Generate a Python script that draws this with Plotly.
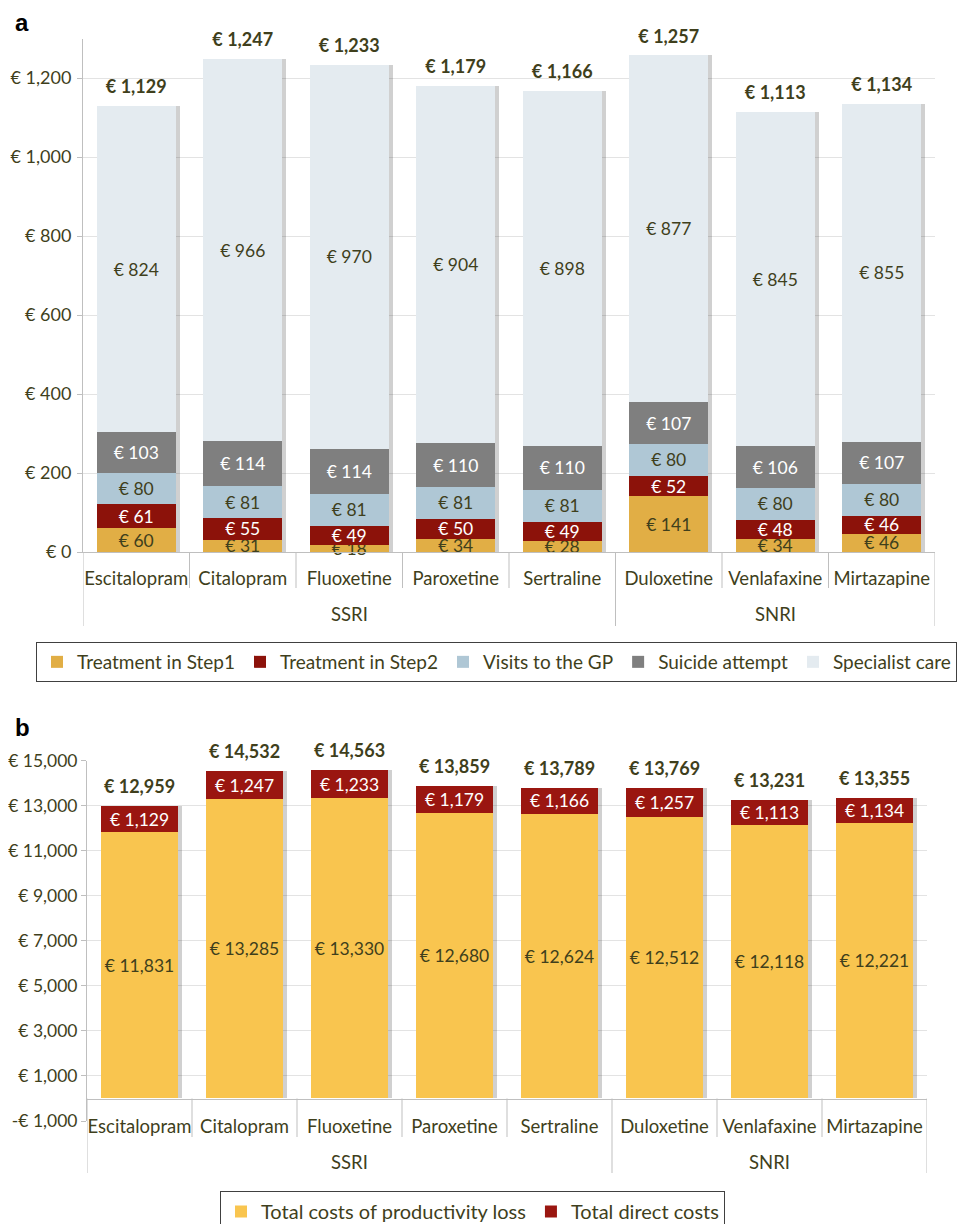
import plotly.graph_objects as go

W, H = 965, 1224
OFF = 8  # page body margin that the html adds around the figure

# ---------------- data ----------------
drugs = ["Escitalopram", "Citalopram", "Fluoxetine", "Paroxetine", "Sertraline",
         "Duloxetine", "Venlafaxine", "Mirtazapine"]
classes = ["SSRI", "SSRI", "SSRI", "SSRI", "SSRI", "SNRI", "SNRI", "SNRI"]

# panel a: direct costs per component
step1 = [60, 31, 18, 34, 28, 141, 34, 46]
step2 = [61, 55, 49, 50, 49, 52, 48, 46]
gp_visits = [80, 81, 81, 81, 81, 80, 80, 80]
suicide = [103, 114, 114, 110, 110, 107, 106, 107]
specialist = [824, 966, 970, 904, 898, 877, 845, 855]
direct_totals = [1129, 1247, 1233, 1179, 1166, 1257, 1113, 1134]

# panel b: total costs
productivity = [11831, 13285, 13330, 12680, 12624, 12512, 12118, 12221]
direct_costs = [1129, 1247, 1233, 1179, 1166, 1257, 1113, 1134]
overall_totals = [12959, 14532, 14563, 13859, 13789, 13769, 13231, 13355]

a_tickvals = [0, 200, 400, 600, 800, 1000, 1200]
a_ticktext = ["€ 0", "€ 200", "€ 400", "€ 600", "€ 800", "€ 1,000", "€ 1,200"]
b_tickvals = [-1000, 1000, 3000, 5000, 7000, 9000, 11000, 13000, 15000]
b_ticktext = ["-€ 1,000", "€ 1,000", "€ 3,000", "€ 5,000", "€ 7,000", "€ 9,000",
              "€ 11,000", "€ 13,000", "€ 15,000"]

# ---------------- style ----------------
FONT = "Lato"
TXT = "#3F3F1C"
AX = "#BFBFBF"
GRID = "#E3E3E3"
FS = 17.5
SHADOW = "rgba(60,60,60,0.24)"
SHIFT_PX = 4


def px(p):
    return (p - OFF) / W


def py(p):
    return 1 - (p - OFF) / H


def euro(v):
    return f"€ {v:,}"


# geometry (screen pixels)
A_X0, A_X1, A_Y0, A_YTOP = 83, 935, 552, 38.5
B_X0, B_X1, B_YBOT, B_YTOP, B_ZERO = 87, 927, 1121, 760.5, 1098.5

fig = go.Figure()

# shadows (drawn first, on the base axes, slightly shifted right)
fig.add_trace(go.Bar(x=drugs, y=direct_totals, marker=dict(color=SHADOW, line=dict(width=0)),
                     showlegend=False, hoverinfo="skip", xaxis="x", yaxis="y"))
fig.add_trace(go.Bar(x=drugs, y=overall_totals, marker=dict(color=SHADOW, line=dict(width=0)),
                     showlegend=False, hoverinfo="skip", xaxis="x2", yaxis="y2"))

series_a = [
    ("Treatment in Step1", step1, "#E1AE45", TXT),
    ("Treatment in Step2", step2, "#8C120A", "white"),
    ("Visits to the GP", gp_visits, "#AFC7D5", TXT),
    ("Suicide attempt", suicide, "#7F7F7F", "white"),
    ("Specialist care", specialist, "#E4EBF0", TXT),
]
for name, vals, col, tcol in series_a:
    fig.add_trace(go.Bar(
        x=drugs, y=vals, name=name, marker=dict(color=col, line=dict(width=0)),
        text=[euro(v) for v in vals], textposition="inside", insidetextanchor="middle",
        textangle=0, textfont=dict(family=FONT, size=FS, color=tcol),
        cliponaxis=False, xaxis="x3", yaxis="y", legend="legend",
    ))
fig.add_trace(go.Scatter(
    x=drugs, y=direct_totals, mode="markers+text",
    marker=dict(size=12, color="rgba(0,0,0,0)"),
    text=[f"<b>{euro(v)}</b>" for v in direct_totals],
    textposition="top center", textfont=dict(family=FONT, size=FS + 0.5, color=TXT),
    cliponaxis=False, showlegend=False, hoverinfo="skip", xaxis="x3", yaxis="y",
))

series_b = [
    ("Total costs of productivity loss", productivity, "#F9C54F", TXT),
    ("Total direct costs", direct_costs, "#9A1610", "white"),
]
for name, vals, col, tcol in series_b:
    fig.add_trace(go.Bar(
        x=drugs, y=vals, name=name, marker=dict(color=col, line=dict(width=0)),
        text=[euro(v) for v in vals], textposition="inside", insidetextanchor="middle",
        textangle=0, textfont=dict(family=FONT, size=FS, color=tcol),
        cliponaxis=False, xaxis="x4", yaxis="y2", legend="legend2",
    ))
fig.add_trace(go.Scatter(
    x=drugs, y=overall_totals, mode="markers+text",
    marker=dict(size=12, color="rgba(0,0,0,0)"),
    text=[f"<b>{euro(v)}</b>" for v in overall_totals],
    textposition="top center", textfont=dict(family=FONT, size=FS + 0.5, color=TXT),
    cliponaxis=False, showlegend=False, hoverinfo="skip", xaxis="x4", yaxis="y2",
))

n = len(drugs)
da = SHIFT_PX / ((A_X1 - A_X0) / n)
db = SHIFT_PX / ((B_X1 - B_X0) / n)

base_x = dict(type="category", categoryorder="array", categoryarray=drugs,
              visible=False, showgrid=False, zeroline=False, fixedrange=True)
main_x = dict(type="category", categoryorder="array", categoryarray=drugs,
              range=[-0.5, n - 0.5],
              showgrid=False, zeroline=False, showline=True, linecolor=AX, linewidth=1,
              ticks="", automargin=False,
              tickfont=dict(family=FONT, size=18.5, color=TXT), fixedrange=True)
common_y = dict(showgrid=True, gridcolor=GRID, gridwidth=1, zeroline=False,
                showline=True, linecolor=AX, linewidth=1, ticks="outside", ticklen=5,
                tickcolor=AX, automargin=False, fixedrange=True)

fig.update_layout(
    width=W, height=H, template="none",
    margin=dict(l=0, r=0, t=0, b=0, pad=0),
    paper_bgcolor="white", plot_bgcolor="white",
    font=dict(family=FONT, color=TXT, size=FS),
    barmode="stack", bargap=0.26,
    uniformtext=dict(minsize=FS, mode="show"),
    xaxis=dict(base_x, domain=[px(A_X0), px(A_X1)], anchor="y",
               range=[-0.5 - da, n - 0.5 - da]),
    xaxis3=dict(main_x, overlaying="x", anchor="y", ticklabelstandoff=10),
    yaxis=dict(common_y, domain=[py(A_Y0), py(A_YTOP)], range=[0, 1300],
               tickmode="array", tickvals=a_tickvals, ticktext=a_ticktext, anchor="x",
               ticklabelstandoff=2, tickfont=dict(family=FONT, size=18, color=TXT)),
    xaxis2=dict(base_x, domain=[px(B_X0), px(B_X1)], anchor="y2",
                range=[-0.5 - db, n - 0.5 - db]),
    xaxis4=dict(main_x, overlaying="x2", anchor="free", position=py(B_ZERO),
                ticklabelstandoff=11),
    yaxis2=dict(common_y, domain=[py(B_YBOT), py(B_YTOP)], range=[-1000, 15000],
                tickmode="array", tickvals=b_tickvals, ticktext=b_ticktext, anchor="x2",
                ticklabelstandoff=0, tickfont=dict(family=FONT, size=17.5, color=TXT)),
    legend=dict(orientation="h", x=px(36), y=py(642), xanchor="left", yanchor="top",
                bgcolor="white", bordercolor="#404040", borderwidth=1,
                font=dict(family=FONT, size=19, color=TXT), traceorder="normal",
                itemwidth=30),
    legend2=dict(orientation="h", x=px(220), y=py(1191), xanchor="left", yanchor="top",
                 bgcolor="white", bordercolor="#404040", borderwidth=1,
                 font=dict(family=FONT, size=20, color=TXT), traceorder="normal",
                 itemwidth=30),
    showlegend=True,
)

# category dividers and group labels
shapes = []
annotations = []
bounds = [i - 0.5 for i in range(n + 1)]
for xr, y_axis, y_inner, y_outer, y_group in [("x3", A_Y0, 588, 626, 614),
                                              ("x4", B_ZERO, 1137, 1173, 1162)]:
    for i, b in enumerate(bounds):
        outer = i == 0 or i == n or classes[i - 1] != classes[i]
        shapes.append(dict(type="line", xref=xr, yref="paper", x0=b, x1=b,
                           y0=py(y_axis), y1=py(y_outer if outer else y_inner),
                           line=dict(color=AX, width=1)))
    groups = []
    for i, c in enumerate(classes):
        if not groups or groups[-1][0] != c:
            groups.append([c, i, i])
        else:
            groups[-1][2] = i
    for c, i0, i1 in groups:
        annotations.append(dict(text=c, xref=xr, yref="paper", x=(i0 + i1) / 2, y=py(y_group),
                                showarrow=False, xanchor="center", yanchor="middle",
                                font=dict(family=FONT, size=18.5, color=TXT)))

annotations.append(dict(text="<b>a</b>", xref="paper", yref="paper", x=px(13), y=py(23),
                        showarrow=False, xanchor="left", yanchor="middle",
                        font=dict(family="Liberation Sans", size=24, color="black")))
annotations.append(dict(text="<b>b</b>", xref="paper", yref="paper", x=px(13), y=py(727),
                        showarrow=False, xanchor="left", yanchor="middle",
                        font=dict(family="Liberation Sans", size=24, color="black")))

fig.update_layout(shapes=shapes, annotations=annotations)

fig.write_html("out.html")
